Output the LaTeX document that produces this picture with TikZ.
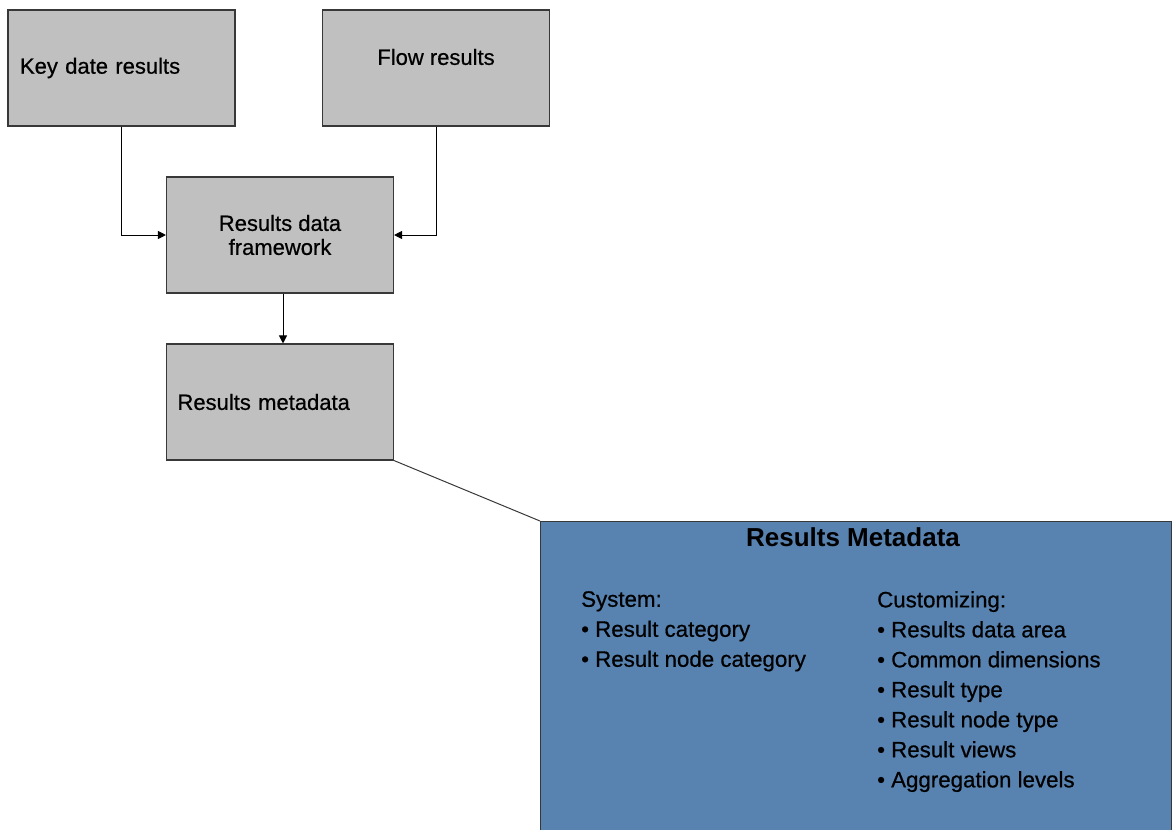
\documentclass[tikz,border=0pt]{standalone}
\usepackage{fontspec}
\setmainfont{Liberation Sans}
\newfontfamily\resfont{Liberation Sans}[FakeBold=0.6]
\usepackage{tikz}
\usetikzlibrary{arrows.meta, positioning}
\definecolor{resgray}{HTML}{C0C0C0}
\definecolor{resblue}{HTML}{5882B0}
\definecolor{resedge}{HTML}{383838}

\begin{document}
\begin{tikzpicture}[
    x=1pt, y=-1pt,
    resbox/.style={rectangle, draw=resedge, fill=resgray, line width=1.1pt, minimum width=227pt, minimum height=116pt, font=\resfont\fontsize{22}{24}\selectfont},
    metabox/.style={rectangle, draw=resedge, fill=resblue, line width=1.4pt, minimum width=631pt, minimum height=420pt, anchor=north west},
    listtext/.style={anchor=north west, inner sep=0pt, align=left, font=\resfont\fontsize{22.3}{30}\selectfont},
    arrow/.style={-{Triangle[length=8pt, width=8pt]}, line width=1pt, draw=black},
    link/.style={line width=1pt, draw=resedge}
]
\useasboundingbox (0,0) rectangle (1173,830);

\node[resbox, text width=203pt, align=left, inner xsep=12pt] (keydate) at (121.5,68) {Key date results};
\node[resbox] (flow) at (436,68) {};
\node[font=\resfont\fontsize{22}{24}\selectfont] (flowtext) at ([yshift=11pt]flow.center) {Flow results};
\node[resbox, align=center] (framework) at (280,235) {Results data\\framework};
\node[resbox, text width=205pt, align=left, inner xsep=11pt] (metadata) at (280,402) {Results metadata};

\node[metabox] (details) at (540,521) {};
\node[font=\bfseries\fontsize{26}{30}\selectfont] (title) at (853,537) {Results Metadata};
\node[listtext] (system) at (581,591) {System:\\\textbullet\ Result category\\\textbullet\ Result node category};
\node[listtext] (custom) at (877,591) {Customizing:\\\textbullet\ Results data area\\\textbullet\ Common dimensions\\\textbullet\ Result type\\\textbullet\ Result node type\\\textbullet\ Result views\\\textbullet\ Aggregation levels};

\draw[arrow] (keydate.south) |- (framework.west);
\draw[arrow] (flow.south) |- (framework.east);
\draw[arrow] ([xshift=3pt]framework.south) -- ([xshift=3pt]metadata.north);
\draw[link] (metadata.south east) -- (details.north west);

\end{tikzpicture}
\end{document}
